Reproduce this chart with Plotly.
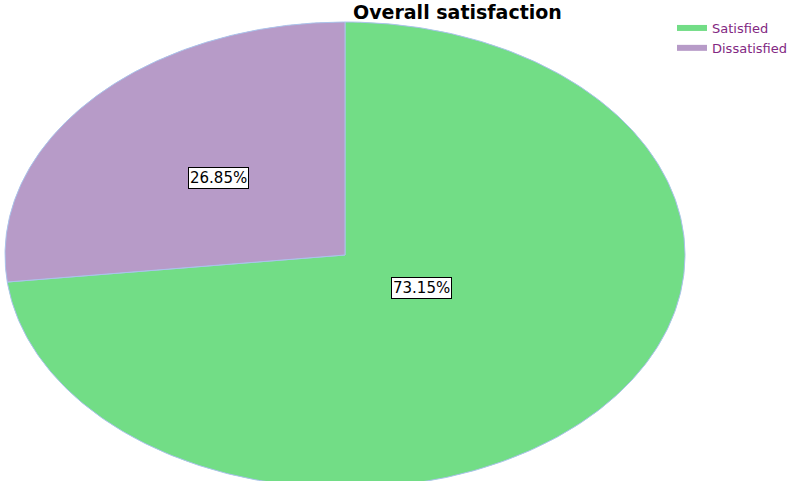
import numpy as np
import plotly.graph_objects as go

categories = ["Satisfied", "Dissatisfied"]
values = [73.15, 26.85]
colors = ["#72DD86", "#B79BC8"]
label_text = ["73.15%", "26.85%"]

# Ellipse geometry (screen pixel space)
CX, CY, RX, RY = 345, 255, 340, 233
W, H = 794, 481

fig = go.Figure()
total = sum(values)
start = 90.0
angles = {}
for i in [1, 0]:
    span = values[i] / total * 360.0
    angles[i] = (start, start + span)
    start += span

label_frac = {0: (0.30, 0.21), 1: (0.50, 0.50)}
edge = "rgb(170,195,235)"
for i in [0, 1]:
    a0, a1 = angles[i]
    t = np.radians(np.linspace(a0, a1, 400))
    xs = np.concatenate([[CX], CX + RX * np.cos(t), [CX]])
    ys = np.concatenate([[CY], CY - RY * np.sin(t), [CY]])
    fig.add_trace(go.Scatter(
        x=xs, y=ys, mode="none", fill="toself",
        fillcolor=colors[i], name=categories[i], hoverinfo="name",
    ))
    fig.add_trace(go.Scatter(
        x=xs, y=ys, mode="lines", line=dict(color=edge, width=1),
        showlegend=False, hoverinfo="skip",
    ))
    mid = np.radians((a0 + a1) / 2)
    fx, fy = label_frac[i]
    fig.add_annotation(
        x=CX + fx * RX * np.cos(mid), y=CY - fy * RY * np.sin(mid),
        text=label_text[i], showarrow=False,
        font=dict(family="DejaVu Sans", size=15, color="black"),
        bgcolor="white", bordercolor="black", borderwidth=1, borderpad=1,
    )

fig.add_annotation(
    x=457, y=12, text="<b>Overall satisfaction</b>", showarrow=False,
    font=dict(family="DejaVu Sans", size=19, color="black"),
)

fig.update_layout(
    width=W, height=H,
    margin=dict(l=0, r=0, t=0, b=0),
    paper_bgcolor="white", plot_bgcolor="white",
    xaxis=dict(range=[0, W], visible=False, fixedrange=True),
    yaxis=dict(range=[H, 0], visible=False, fixedrange=True),
    showlegend=True,
    legend=dict(
        x=672 / W, y=1 - 13 / H, xanchor="left", yanchor="top",
        font=dict(family="DejaVu Sans", size=13, color="rgb(130,40,130)"),
        bgcolor="rgba(0,0,0,0)", tracegroupgap=0, itemwidth=30,
    ),
)

fig.write_html("out.html", config={"displayModeBar": False},
               post_script="document.body.style.margin='0';")
